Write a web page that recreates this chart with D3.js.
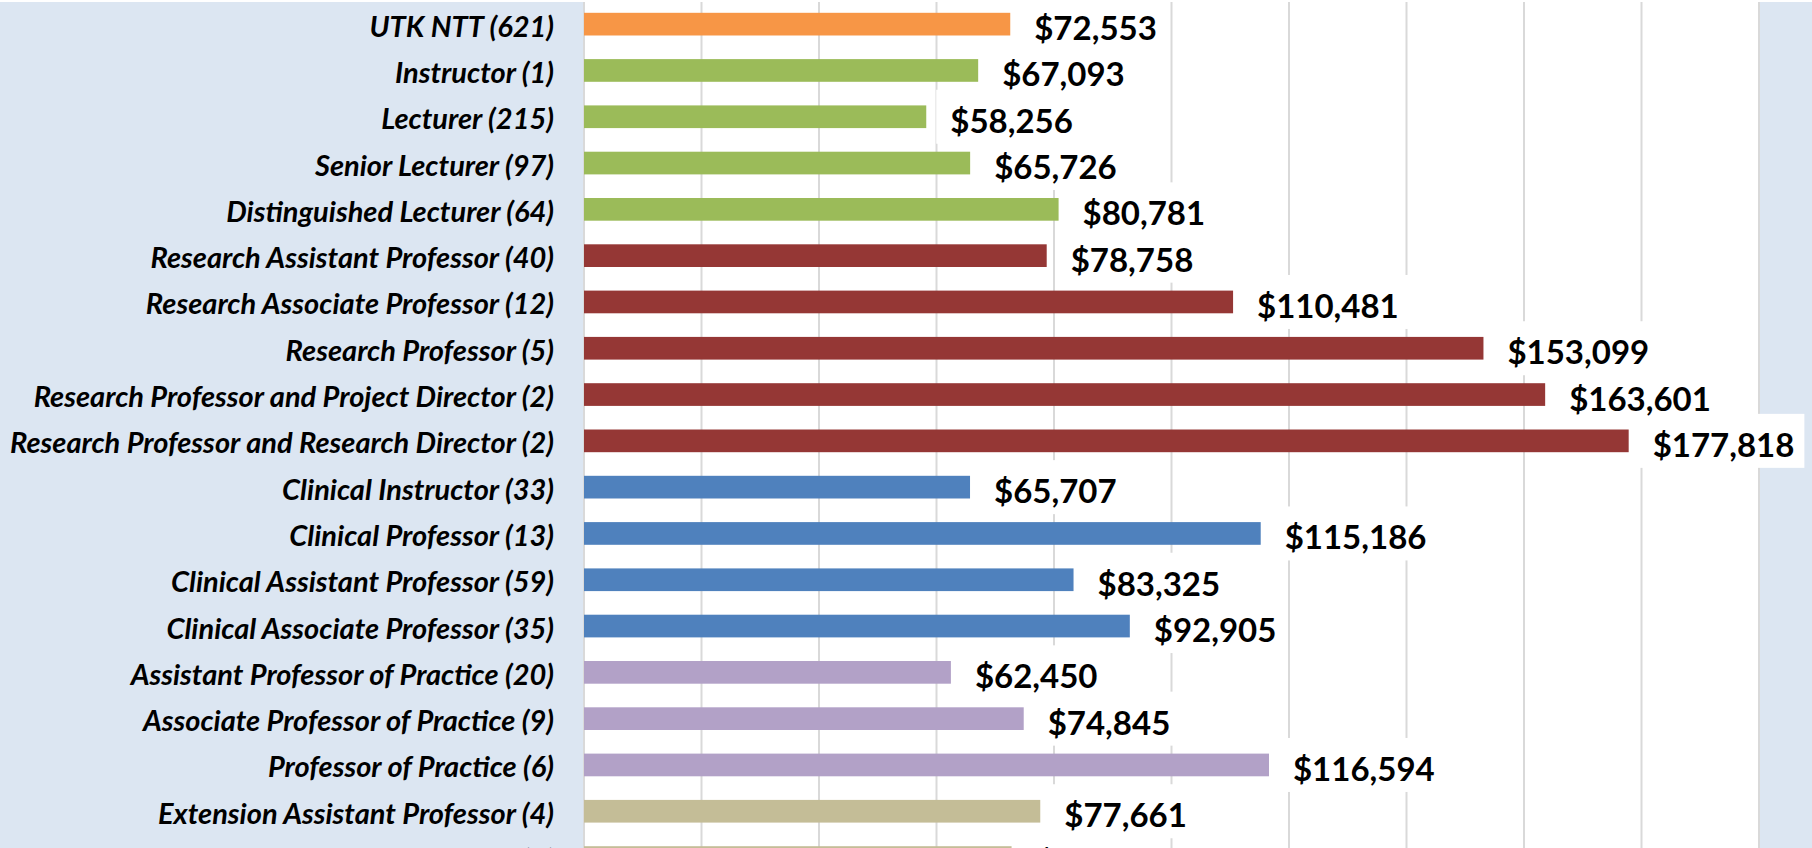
<!DOCTYPE html>
<html>
<head>
<meta charset="utf-8">
<script src="https://cdn.jsdelivr.net/npm/d3@7"></script>
<style>
  html, body { margin: 0; padding: 0; background: #fff; }
  svg { display: block; }
</style>
</head>
<body>
<svg width="1812" height="848"></svg>
<script>
// titles with headcount, average salary, group (for colour)
const titles = [
    'UTK NTT (621)', 'Instructor (1)', 'Lecturer (215)', 'Senior Lecturer (97)',
    'Distinguished Lecturer (64)', 'Research Assistant Professor (40)',
    'Research Associate Professor (12)', 'Research Professor (5)',
    'Research Professor and Project Director (2)', 'Research Professor and Research Director (2)',
    'Clinical Instructor (33)', 'Clinical Professor (13)', 'Clinical Assistant Professor (59)',
    'Clinical Associate Professor (35)', 'Assistant Professor of Practice (20)',
    'Associate Professor of Practice (9)', 'Professor of Practice (6)',
    'Extension Assistant Professor (4)', 'Extension Associate Professor (1)'
];
const salaries = [72553, 67093, 58256, 65726, 80781, 78758, 110481, 153099, 163601, 177818,
    65707, 115186, 83325, 92905, 62450, 74845, 116594, 77661, 72779];
const groups = ['all', 'lecturer', 'lecturer', 'lecturer', 'lecturer', 'research', 'research',
    'research', 'research', 'research', 'clinical', 'clinical', 'clinical', 'clinical',
    'practice', 'practice', 'practice', 'extension', 'extension'];
const xTicks = [0, 20000, 40000, 60000, 80000, 100000, 120000, 140000, 160000, 180000, 200000];

const colors = {
    all: '#F79646', lecturer: '#9BBB59', research: '#953735',
    clinical: '#4F81BD', practice: '#B2A1C7', extension: '#C4BD97'
};

const data = titles.map((t, i) => ({ title: t, salary: salaries[i], group: groups[i] }));

const svg = d3.select('svg'),
    width = 1812,
    height = 848;
const plotLeft = 584, plotRight = 1759, plotTop = 2;

const x = d3.scaleLinear().domain([0, 200000]).range([plotLeft, plotRight]);
const step = 46.3;
const y = d3.scaleBand()
    .domain(titles)
    .range([1, 1 + step * titles.length])
    .paddingInner(0.51)
    .paddingOuter(0.255);

// backgrounds
svg.append('rect').attr('width', width).attr('height', height).attr('fill', '#fff');
svg.append('rect').attr('x', 0).attr('y', plotTop).attr('width', plotLeft - 1).attr('height', height - plotTop).attr('fill', '#DCE6F2');
svg.append('rect').attr('x', plotRight).attr('y', plotTop).attr('width', width - plotRight).attr('height', height - plotTop).attr('fill', '#DCE6F2');

// gridlines
svg.append('g')
    .selectAll('line')
    .data(xTicks)
    .enter().append('line')
    .attr('x1', d => x(d)).attr('x2', d => x(d))
    .attr('y1', plotTop).attr('y2', height)
    .attr('stroke', '#D9D9D9')
    .attr('stroke-width', 2);

// value labels, each with a white box behind (like the excel data labels)
const labels = svg.append('g')
    .selectAll('g')
    .data(data)
    .enter().append('g');

labels.append('text')
    .attr('class', 'val')
    .attr('x', d => x(d.salary) + 24)
    .attr('y', d => y(d.title) + y.bandwidth() / 2 + 3)
    .attr('dominant-baseline', 'central')
    .attr('font-family', 'Lato, sans-serif')
    .attr('font-weight', 'bold')
    .attr('font-size', '33px')
    .attr('fill', '#000')
    .text(d => '$' + d3.format(',')(d.salary));

labels.each(function(d) {
    const g = d3.select(this);
    const w = g.select('text').node().getComputedTextLength();
    g.insert('rect', 'text')
        .attr('x', x(d.salary) + 10)
        .attr('y', y(d.title) + y.bandwidth() / 2 - 27)
        .attr('width', w + 24)
        .attr('height', 54)
        .attr('fill', '#fff');
});

// bars
svg.append('g')
    .selectAll('rect')
    .data(data)
    .enter().append('rect')
    .attr('x', x(0))
    .attr('y', d => y(d.title))
    .attr('width', d => x(d.salary) - x(0))
    .attr('height', y.bandwidth())
    .attr('fill', d => colors[d.group]);

// category labels
svg.append('g')
    .selectAll('text')
    .data(data)
    .enter().append('text')
    .attr('x', plotLeft - 30)
    .attr('y', d => y(d.title) + y.bandwidth() / 2 + 1)
    .attr('text-anchor', 'end')
    .attr('dominant-baseline', 'central')
    .attr('font-family', 'Lato, sans-serif')
    .attr('font-weight', 'bold')
    .attr('font-style', 'italic')
    .attr('font-size', '29px')
    .attr('fill', '#000')
    .text(d => d.title);

// keep value text above the white boxes of neighbouring rows
const valText = svg.append('g');
svg.selectAll('text.val').each(function() { valText.node().appendChild(this); });
</script>
</body>
</html>
